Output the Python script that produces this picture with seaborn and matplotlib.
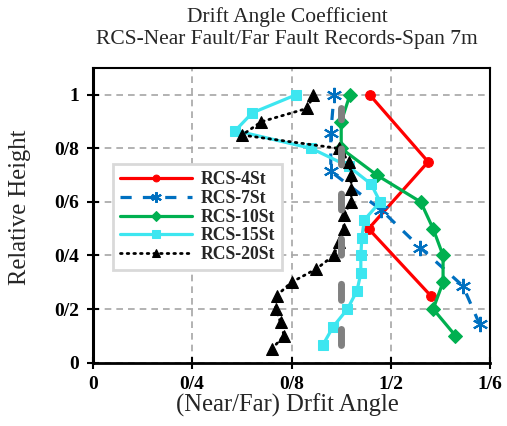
import matplotlib
matplotlib.use("Agg")
import matplotlib.pyplot as plt
import seaborn as sns
import pandas as pd

# relative heights and (near/far) drift angle ratios
h_4st = [0.25, 0.5, 0.75, 1.0]
v_4st = [1.36, 1.11, 1.35, 1.115]

h_7st = [0.143, 0.286, 0.429, 0.571, 0.714, 0.857, 1.0]
v_7st = [1.557, 1.49, 1.319, 1.16, 0.958, 0.958, 0.971]

h_10st = [0.1, 0.2, 0.3, 0.4, 0.5, 0.6, 0.7, 0.8, 0.9, 1.0]
v_10st = [1.46, 1.37, 1.41, 1.41, 1.37, 1.32, 1.144, 1.0, 1.0, 1.035]

h_15st = [0.067, 0.133, 0.2, 0.267, 0.333, 0.4, 0.467, 0.533, 0.6, 0.667,
          0.733, 0.8, 0.867, 0.933, 1.0]
v_15st = [0.927, 0.967, 1.025, 1.063, 1.079, 1.079, 1.083, 1.093, 1.157, 1.12,
          1.03, 0.88, 0.574, 0.642, 0.817]

h_20st = [0.05, 0.1, 0.15, 0.2, 0.25, 0.3, 0.35, 0.4, 0.45, 0.5,
          0.55, 0.6, 0.65, 0.7, 0.75, 0.8, 0.85, 0.9, 0.95, 1.0]
v_20st = [0.72, 0.77, 0.756, 0.736, 0.74, 0.80, 0.90, 0.97, 0.99, 1.01,
          1.01, 1.04, 1.041, 1.039, 1.032, 0.99, 0.601, 0.679, 0.864, 0.888]

# grey reference line at ratio = 1
ref_x = [1.0, 1.0]
ref_h = [0.0, 0.95]

x_ticks = [0, 0.4, 0.8, 1.2, 1.6]
x_labels = ["0", "0/4", "0/8", "1/2", "1/6"]
y_ticks = [0, 0.2, 0.4, 0.6, 0.8, 1.0]
y_labels = ["0", "0/2", "0/4", "0/6", "0/8", "1"]

sns.set_theme(style="ticks")
plt.rcParams["font.family"] = ["Liberation Serif", "DejaVu Serif"]

fig = plt.figure(figsize=(5.07, 4.26), dpi=100)
ax = fig.add_axes([0.183, 0.149, 0.784, 0.691])

series = [
    ("RCS-4St", h_4st, v_4st, dict(color="#FF0000", marker="o", markersize=7,
                                   linewidth=2.3, linestyle="-")),
    ("RCS-7St", h_7st, v_7st, dict(color="#0070C0", marker=(6, 2, 0), markersize=11,
                                   markeredgewidth=1.5, linewidth=2.3,
                                   linestyle=(0, (3.5, 3.5)))),
    ("RCS-10St", h_10st, v_10st, dict(color="#00B050", marker="D", markersize=7.5,
                                      linewidth=2.3, linestyle="-")),
    ("RCS-15St", h_15st, v_15st, dict(color="#3DE6F0", marker="s", markersize=7.5,
                                      linewidth=2.3, linestyle="-")),
    ("RCS-20St", h_20st, v_20st, dict(color="black", marker="^", markersize=8.5,
                                      linewidth=2.0, linestyle=(0, (0.6, 1.8)),
                                      dash_capstyle="round")),
]

handles = []
for z, (name, h, v, style) in enumerate(series):
    df = pd.DataFrame({"ratio": v, "height": h})
    sns.lineplot(data=df, x="ratio", y="height", sort=False, estimator=None,
                 ax=ax, zorder=3 + z, markeredgecolor=style["color"], **style)
    handles.append(ax.lines[-1])

ref = pd.DataFrame({"ratio": ref_x, "height": ref_h})
sns.lineplot(data=ref, x="ratio", y="height", sort=False, estimator=None, ax=ax,
             color="#808080", linewidth=5, linestyle=(3.9, (2.3, 4.2)),
             dash_capstyle="round", zorder=7)

ax.set_xlim(0, 1.6)
ax.set_ylim(0, 1.1)
ax.set_xticks(x_ticks)
ax.set_xticklabels(x_labels, fontsize=14, fontweight="bold")
ax.set_yticks(y_ticks)
ax.set_yticklabels(y_labels, fontsize=14, fontweight="bold")
ax.tick_params(direction="inout", length=8, width=1.5, colors="black", pad=6)
ax.grid(True, color="#A6A6A6", linestyle=(0, (4, 3)), linewidth=1.2)
ax.set_axisbelow(True)
for sp in ax.spines.values():
    sp.set_color("black")
    sp.set_linewidth(1.5)
ax.spines["left"].set_linewidth(2.2)
ax.spines["bottom"].set_linewidth(2.0)

ax.set_xlabel("(Near/Far) Drfit Angle", fontsize=17.7, va="center")
ax.xaxis.set_label_coords(0.49, -0.145)
ax.set_ylabel("Relative Height", fontsize=17.7, va="center")
ax.yaxis.set_label_coords(-0.183, 0.528)

fig.text(0.566, 0.960, "Drift Angle Coefficient", ha="center", va="center",
         fontsize=15.5)
fig.text(0.566, 0.907, "RCS-Near Fault/Far Fault Records-Span 7m", ha="center",
         va="center", fontsize=15.5)

leg = ax.legend(handles, [s[0] for s in series], loc="upper left",
                bbox_to_anchor=(0.051, 0.674), borderaxespad=0, handlelength=4.1,
                prop={"weight": "bold", "size": 12.7}, frameon=True, fancybox=False,
                borderpad=0.4, labelspacing=0.1, handletextpad=0.45,
                markerscale=0.7)
leg.get_frame().set_edgecolor("#D9D9D9")
leg.get_frame().set_linewidth(2)
leg.get_frame().set_alpha(1)
leg.set_zorder(20)

fig.savefig("out.png", dpi=100)
